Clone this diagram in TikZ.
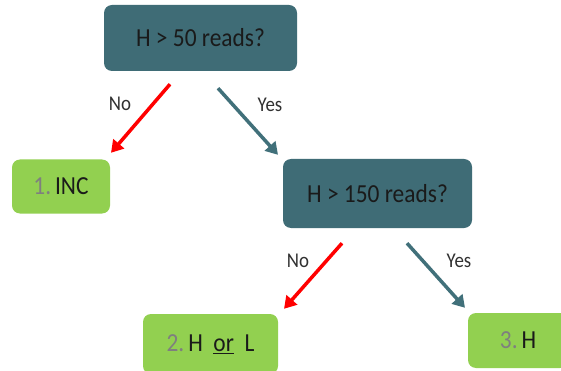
\documentclass[tikz,border=0pt]{standalone}
\usepackage{fontspec}
\setmainfont{Carlito}
\usetikzlibrary{arrows.meta,calc}
\definecolor{tealbox}{HTML}{3F6C76}
\definecolor{tealarrow}{HTML}{41707A}
\definecolor{leafgreen}{HTML}{92D050}
\definecolor{numgray}{HTML}{7F7F7F}
\definecolor{txt}{HTML}{1A1A1A}
\newcommand{\sq}[1]{\scalebox{0.9}[1]{#1}}
\begin{document}
\begin{tikzpicture}[x=1pt,y=-1pt,
  question/.style={rectangle, rounded corners=8pt, fill=tealbox, text=txt, inner sep=0pt, font=\fontsize{26}{30}\selectfont},
  leaf/.style={rectangle, rounded corners=8pt, fill=leafgreen, text=txt, inner sep=0pt, font=\fontsize{26}{30}\selectfont},
  lbl/.style={text=txt!90, inner sep=0pt, font=\fontsize{21}{25}\selectfont},
  noarrow/.style={draw=red, line width=3.5pt, -{Triangle[length=12pt,width=14pt]}},
  yesarrow/.style={draw=tealarrow, line width=3.5pt, -{Triangle[length=12pt,width=14pt]}}
]
\clip (0,0) rectangle (561,371);
\fill[white] (0,0) rectangle (561,371);

\node[question, minimum width=193pt, minimum height=66pt] (q1) at (200.5,38) {\sq{H > 50 reads?}};
\node[leaf, minimum width=98pt, minimum height=54pt] (l1) at (61,186.5) {\sq{\textcolor{numgray}{1.}\,INC}};
\node[question, minimum width=189pt, minimum height=69pt] (q2) at (377.5,193.5) {\sq{H > 150 reads?}};
\node[leaf, minimum width=135pt, minimum height=60pt] (l2) at (210.5,344) {\sq{\textcolor{numgray}{2.}\,H\ \ \underline{or}\ \ L}};
\node[leaf, minimum width=100pt, minimum height=55pt] (l3) at (518,340.5) {\sq{\textcolor{numgray}{3.}\,H}};

\draw[noarrow] ([xshift=-30.5pt,yshift=-13pt]q1.south) -- ([xshift=50pt,yshift=6.5pt]l1.north);
\draw[yesarrow] ([xshift=17.5pt,yshift=-17pt]q1.south) -- ([xshift=-99.5pt,yshift=4pt]q2.north);
\draw[noarrow] ([xshift=-35.5pt,yshift=-15pt]q2.south) -- ([xshift=73.5pt,yshift=5pt]l2.north);
\draw[yesarrow] ([xshift=29.5pt,yshift=-15pt]q2.south) -- ([xshift=-53pt,yshift=5pt]l3.north);

\node[lbl] (no1) at (120,104) {\sq{No}};
\node[lbl] (yes1) at (270,105) {\sq{Yes}};
\node[lbl] (no2) at (298,261) {\sq{No}};
\node[lbl] (yes2) at (459,261) {\sq{Yes}};
\end{tikzpicture}
\end{document}
